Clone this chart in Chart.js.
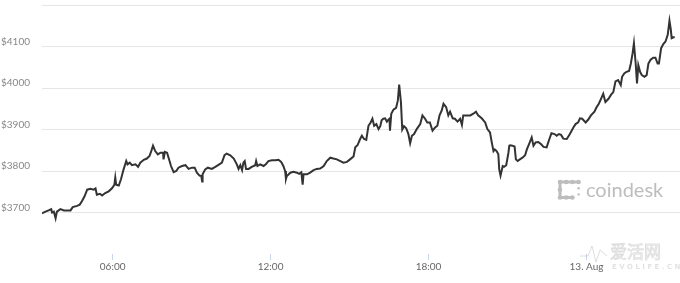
<!DOCTYPE html>
<html>
<head>
<meta charset="utf-8">
<script src="https://cdn.jsdelivr.net/npm/chart.js@4.4.1/dist/chart.umd.min.js"></script>
<style>
  html, body { margin: 0; padding: 0; background: #fff; }
  #wrap { position: relative; width: 680px; height: 283px; }
</style>
</head>
<body>
<div id="wrap"><canvas id="btcChart" width="680" height="283"></canvas></div>
<script>
// ===== DATA (minutes since 00:00, 12 Aug / USD price) =====
const minutes = [
  199, 207, 214, 220, 222, 226, 230, 233, 241, 249, 256, 264, 269, 279, 285, 290,
  296, 302, 309, 317, 321, 324, 331, 336, 343, 351, 359, 364, 366, 368, 374, 379,
  385, 391, 394, 399, 404, 412, 418, 423, 431, 438, 444, 448, 452, 457, 463, 469,
  475, 476, 479, 484, 488, 493, 499, 505, 510, 518, 526, 533, 541, 547, 552, 558,
  562, 564, 565, 571, 577, 586, 594, 603, 609, 615, 620, 628, 636, 643, 647, 651,
  655, 658, 661, 664, 670, 677, 685, 687, 690, 696, 704, 709, 715, 723, 731, 738,
  744, 749, 753, 755, 757, 765, 772, 780, 785, 790, 793, 795, 803, 810, 818, 825,
  833, 841, 848, 856, 863, 871, 879, 886, 894, 901, 909, 913, 918, 924, 928, 933,
  938, 943, 948, 952, 956, 961, 966, 970, 973, 977, 981, 985, 989, 991, 992, 995,
  1000, 1006, 1010, 1013, 1017, 1020, 1024, 1029, 1034, 1038, 1042, 1047, 1053, 1061, 1066, 1072,
  1077, 1083, 1089, 1095, 1100, 1105, 1110, 1114, 1120, 1125, 1129, 1135, 1140, 1146, 1152, 1156,
  1159, 1165, 1175, 1182, 1188, 1193, 1201, 1209, 1214, 1220, 1224, 1228, 1231, 1235, 1239, 1241,
  1244, 1249, 1252, 1257, 1262, 1264, 1266, 1271, 1276, 1279, 1283, 1288, 1294, 1300, 1304, 1309,
  1315, 1319, 1324, 1330, 1336, 1342, 1349, 1354, 1360, 1367, 1372, 1377, 1382, 1387, 1395, 1402,
  1410, 1415, 1421, 1425, 1430, 1438, 1444, 1450, 1458, 1463, 1468, 1473, 1478, 1483, 1490, 1496,
  1501, 1506, 1512, 1518, 1521, 1526, 1531, 1537, 1541, 1545, 1548, 1552, 1555, 1558, 1562, 1566,
  1572, 1577, 1581, 1586, 1592, 1597, 1602, 1605, 1610, 1615, 1620, 1625, 1629, 1632, 1634, 1638,
  1641
];
const prices = [
  3698, 3702, 3705, 3708, 3700, 3702, 3686, 3702, 3708, 3705, 3705, 3705, 3713, 3716, 3719, 3727,
  3739, 3755, 3757, 3755, 3758, 3743, 3745, 3741, 3747, 3751, 3759, 3767, 3784, 3767, 3765, 3780,
  3804, 3824, 3816, 3820, 3814, 3816, 3810, 3820, 3827, 3830, 3836, 3848, 3861, 3848, 3840, 3844,
  3844, 3828, 3846, 3844, 3830, 3812, 3797, 3800, 3808, 3812, 3814, 3805, 3808, 3808, 3796, 3789,
  3788, 3775, 3792, 3804, 3808, 3805, 3810, 3816, 3820, 3838, 3842, 3838, 3830, 3816, 3805, 3814,
  3802, 3820, 3824, 3805, 3805, 3810, 3814, 3824, 3812, 3816, 3812, 3816, 3824, 3826, 3826, 3827,
  3822, 3812, 3800, 3781, 3788, 3796, 3798, 3796, 3793, 3797, 3767, 3792, 3792, 3796, 3802, 3805,
  3806, 3812, 3824, 3832, 3830, 3828, 3824, 3820, 3822, 3828, 3835, 3857, 3862, 3877, 3885, 3877,
  3875, 3909, 3917, 3926, 3909, 3913, 3901, 3908, 3922, 3926, 3927, 3919, 3924, 3926, 3897, 3938,
  3948, 3952, 3970, 4008, 3966, 3900, 3908, 3903, 3889, 3867, 3885, 3889, 3901, 3913, 3934, 3926,
  3917, 3917, 3897, 3905, 3909, 3934, 3946, 3962, 3954, 3934, 3943, 3927, 3926, 3919, 3926, 3911,
  3934, 3934, 3934, 3938, 3943, 3934, 3927, 3917, 3901, 3893, 3869, 3848, 3852, 3848, 3840, 3804,
  3789, 3812, 3810, 3814, 3844, 3861, 3862, 3861, 3859, 3828, 3824, 3828, 3832, 3838, 3852, 3865,
  3881, 3861, 3869, 3870, 3865, 3858, 3857, 3873, 3891, 3889, 3885, 3889, 3887, 3878, 3877, 3889,
  3905, 3913, 3917, 3927, 3926, 3917, 3924, 3934, 3943, 3954, 3962, 3974, 3986, 3966, 3974, 3984,
  3990, 4016, 4019, 4007, 4027, 4035, 4039, 4041, 4059, 4084, 4108, 4059, 4011, 4055, 4039, 4031,
  4027, 4031, 4059, 4068, 4073, 4073, 4059, 4059, 4096, 4106, 4112, 4128, 4162, 4141, 4120, 4122,
  4122
];
const yTicks = [3600, 3700, 3800, 3900, 4000, 4100, 4200];
const xTicks = [360, 720, 1080, 1440];
const xTickLabels = ['06:00', '12:00', '18:00', '13. Aug'];

// ===== WATERMARKS =====
const watermarks = {
  id: 'watermarks',
  afterDraw(chart) {
    const c = chart.ctx;
    c.save();
    // coindesk icon (dot frame)
    c.fillStyle = '#bdbdbd';
    c.strokeStyle = '#bdbdbd';
    const ox = 560, oy = 182, s = 6.2;
    const dot = (i, j, r) => { c.beginPath(); c.arc(ox + i * s, oy + j * s, r, 0, Math.PI * 2); c.fill(); };
    c.lineWidth = 3;
    c.beginPath(); c.moveTo(ox, oy); c.lineTo(ox + 3 * s, oy); c.stroke();
    c.beginPath(); c.moveTo(ox, oy); c.lineTo(ox, oy + 2.5 * s); c.stroke();
    c.beginPath(); c.moveTo(ox, oy + 2.5 * s); c.lineTo(ox + 2 * s, oy + 2.5 * s); c.stroke();
    [[0,0],[1,0],[2,0],[3,0],[0,1.25],[0,2.5],[1,2.5],[2,2.5]].forEach(p => dot(p[0], p[1], 2.3));
    dot(3, 1, 1.2); dot(3, 2, 1.2);
    c.font = '20px Lato, "Open Sans", sans-serif';
    c.textBaseline = 'alphabetic';
    c.fillText('coindesk', 586, 197);

    // evolife watermark
    c.strokeStyle = 'rgba(0,0,0,0.13)';
    c.fillStyle = '#ffffff';
    c.lineWidth = 1;
    c.beginPath();
    c.moveTo(580, 256); c.lineTo(588, 256); c.lineTo(592, 246); c.lineTo(596, 262); c.lineTo(600, 250); c.lineTo(607, 256);
    c.stroke();
    c.font = '17px "Noto Sans CJK SC", sans-serif';
    c.fillText('爱活网', 610, 258);
    c.strokeText('爱活网', 610, 258);
    c.font = 'bold 7px "DejaVu Sans", sans-serif';
    c.fillStyle = 'rgba(0,0,0,0.12)';
    c.fillText('E V O L I F E . C N', 612, 269);
    c.restore();
  }
};

new Chart(document.getElementById('btcChart'), {
  type: 'line',
  data: {
    datasets: [{
      data: minutes.map((m, i) => ({ x: m, y: prices[i] })),
      borderColor: '#333333',
      borderWidth: 2,
      pointRadius: 0,
      tension: 0,
      fill: false,
    }]
  },
  options: {
    responsive: false,
    animation: false,
    devicePixelRatio: 1,
    layout: { padding: { top: 5, right: 0, left: 0, bottom: 0 } },
    plugins: { legend: { display: false }, tooltip: { enabled: false } },
    scales: {
      x: {
        type: 'linear',
        min: 199,
        max: 1653,
        afterBuildTicks: s => { s.ticks = xTicks.map(v => ({ value: v })); },
        afterFit: s => { s.height = 29; s.paddingLeft = 0; s.paddingRight = 0; },
        border: { display: false },
        grid: { drawOnChartArea: false, drawTicks: true, tickLength: 6, color: '#ccd6eb' },
        ticks: {
          autoSkip: false, maxRotation: 0, padding: 1,
          color: '#666666',
          font: { size: 10, family: "Lato, 'Open Sans', sans-serif" },
          callback: v => xTickLabels[xTicks.indexOf(v)]
        }
      },
      y: {
        min: 3600,
        max: 4200,
        afterBuildTicks: s => { s.ticks = yTicks.map(v => ({ value: v })); },
        afterFit: s => { s.width = 42; s.paddingTop = 0; s.paddingBottom = 0; },
        border: { display: false },
        grid: { color: '#e6e6e6', drawTicks: false },
        ticks: {
          padding: 12,
          labelOffset: -5,
          color: '#888888',
          font: { size: 10, family: "Lato, 'Open Sans', sans-serif" },
          callback: v => v === 3600 ? null : (v === 4200 ? '' : '$' + v)
        }
      }
    }
  },
  plugins: [watermarks]
});
</script>
</body>
</html>
